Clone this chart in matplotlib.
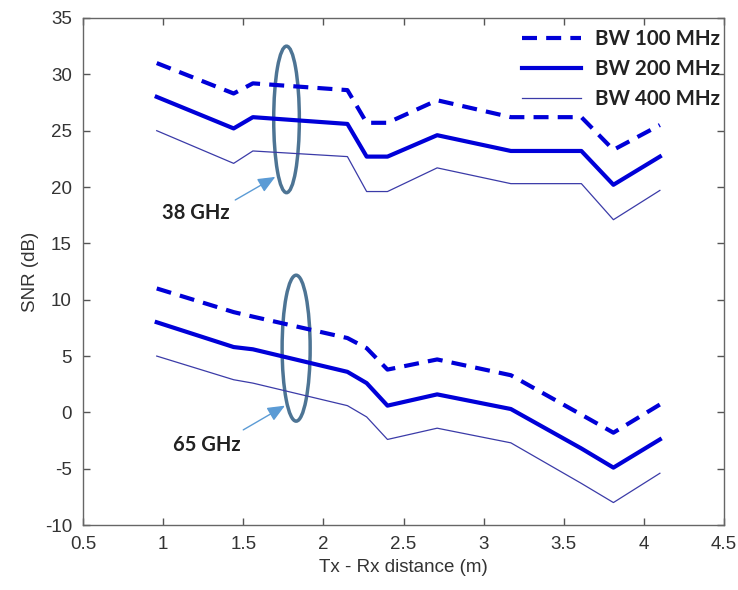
import matplotlib.pyplot as plt
from matplotlib.patches import Ellipse

plt.rcParams['font.family'] = ['Liberation Sans', 'DejaVu Sans']
plt.rcParams['axes.unicode_minus'] = False

# distance (m)
dist = [0.96, 1.44, 1.56, 2.15, 2.27, 2.40, 2.71, 3.17, 3.61, 3.81, 4.10]

# 38 GHz
snr38_100 = [31.0, 28.3, 29.2, 28.6, 25.7, 25.7, 27.7, 26.2, 26.2, 23.3, 25.5]
snr38_200 = [28.0, 25.2, 26.2, 25.6, 22.7, 22.7, 24.6, 23.2, 23.2, 20.2, 22.7]
snr38_400 = [25.0, 22.1, 23.2, 22.7, 19.6, 19.6, 21.7, 20.3, 20.3, 17.1, 19.7]

# 65 GHz
snr65_100 = [11.0, 8.9, 8.5, 6.6, 5.7, 3.8, 4.7, 3.3, -0.2, -1.8, 0.7]
snr65_200 = [8.0, 5.8, 5.6, 3.6, 2.6, 0.6, 1.6, 0.3, -3.2, -4.9, -2.4]
snr65_400 = [5.0, 2.9, 2.6, 0.6, -0.4, -2.4, -1.4, -2.7, -6.3, -8.0, -5.4]

labels = ['BW 100 MHz', 'BW 200 MHz', 'BW 400 MHz']

fig = plt.figure(figsize=(7.38, 5.9), dpi=100)
ax = fig.add_axes([0.1125, 0.110, 0.8685, 0.8595])

blue = '#0000d8'
navy = '#3b3ba8'

ax.plot(dist, snr38_100, color=blue, lw=3, dashes=(3.6, 2.2), label=labels[0])
ax.plot(dist, snr38_200, color=blue, lw=3, label=labels[1])
ax.plot(dist, snr38_400, color=navy, lw=0.9, label=labels[2])
ax.plot(dist, snr65_100, color=blue, lw=3, dashes=(3.6, 2.2))
ax.plot(dist, snr65_200, color=blue, lw=3)
ax.plot(dist, snr65_400, color=navy, lw=0.9)

# ellipses marking the bandwidth groups
ell_col = '#4d7494'
ax.add_patch(Ellipse((1.77, 26.0), 0.16, 13.0, fill=False, ec=ell_col, lw=2.5))
ax.add_patch(Ellipse((1.83, 5.7), 0.175, 12.95, fill=False, ec=ell_col, lw=2.5))

arr_col = '#5b9bd5'
ax.annotate('', xy=(1.70, 20.9), xytext=(1.45, 18.85),
            arrowprops=dict(arrowstyle='-|>,head_length=0.7,head_width=0.3',
                            color=arr_col, lw=1.0, mutation_scale=15, shrinkA=0, shrinkB=0))
ax.annotate('', xy=(1.76, 0.6), xytext=(1.5, -1.55),
            arrowprops=dict(arrowstyle='-|>,head_length=0.7,head_width=0.3',
                            color=arr_col, lw=1.0, mutation_scale=15, shrinkA=0, shrinkB=0))

bold_font = ['Lato', 'DejaVu Sans']
ax.text(0.99, 17.7, '38 GHz', fontsize=14.5, fontweight='bold', color='#222222',
        family=bold_font, va='center', ha='left')
ax.text(1.06, -2.9, '65 GHz', fontsize=14.5, fontweight='bold', color='#222222',
        family=bold_font, va='center', ha='left')

ax.set_xlim(0.5, 4.5)
ax.set_ylim(-10, 35)
ax.set_xticks([0.5, 1, 1.5, 2, 2.5, 3, 3.5, 4, 4.5])
ax.set_xticklabels(['0.5', '1', '1.5', '2', '2.5', '3', '3.5', '4', '4.5'])
ax.set_yticks(range(-10, 36, 5))
ax.tick_params(direction='in', top=True, right=True, length=5, width=1,
               color='#555555', labelcolor='#333333', labelsize=13.5, pad=8)
for s in ax.spines.values():
    s.set_color('#666666')
    s.set_linewidth(1)

ax.set_xlabel('Tx - Rx distance (m)', fontsize=13.5, color='#333333', labelpad=4)
ax.set_ylabel('SNR (dB)', fontsize=13.5, color='#333333', labelpad=4)

leg = ax.legend(loc='upper right', frameon=False, handlelength=2.9,
                bbox_to_anchor=(1.016, 1.007), labelspacing=0.5, handletextpad=0.65,
                borderaxespad=0.3,
                prop={'family': bold_font, 'weight': 'bold', 'size': 14.8})
for t in leg.get_texts():
    t.set_color('#222222')

fig.savefig('out.png', dpi=100)
